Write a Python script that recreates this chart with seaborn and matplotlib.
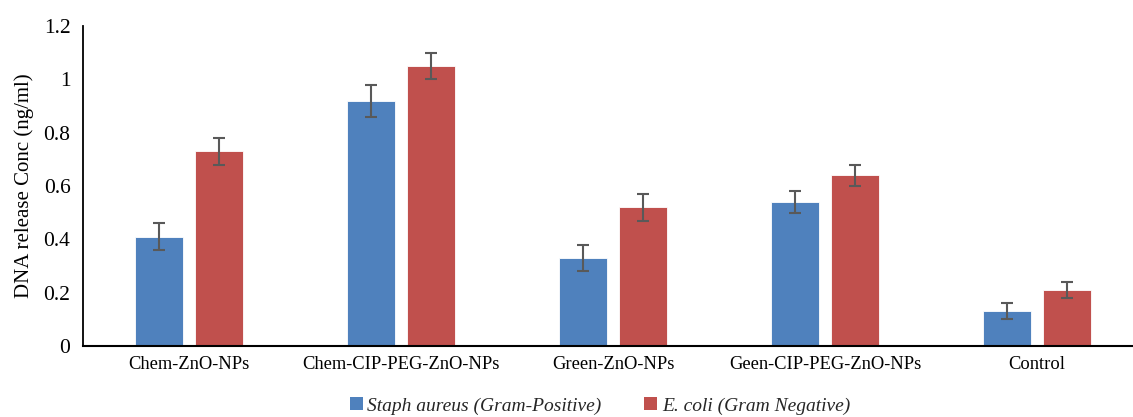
import matplotlib
matplotlib.use("Agg")
import matplotlib.pyplot as plt
import seaborn as sns
import pandas as pd
from matplotlib.ticker import FuncFormatter
from matplotlib.patches import Patch

categories = ["Chem-ZnO-NPs", "Chem-CIP-PEG-ZnO-NPs", "Green-ZnO-NPs",
              "Geen-CIP-PEG-ZnO-NPs", "Control"]
series = ["Staph aureus (Gram-Positive)", "E. coli (Gram Negative)"]
staph_values = [0.41, 0.92, 0.33, 0.54, 0.13]
staph_errors = [0.05, 0.06, 0.05, 0.04, 0.03]
ecoli_values = [0.73, 1.05, 0.52, 0.64, 0.21]
ecoli_errors = [0.05, 0.05, 0.05, 0.04, 0.03]
colors = ["#4F81BD", "#C0504D"]

df = pd.DataFrame({
    "category": categories * 2,
    "series": [series[0]] * 5 + [series[1]] * 5,
    "value": staph_values + ecoli_values,
    "err": staph_errors + ecoli_errors,
})

sns.set_theme(style="white")
plt.rcParams["font.family"] = ["Liberation Serif", "DejaVu Serif"]

fig = plt.figure(figsize=(11.33, 4.17), dpi=100)
ax = fig.add_axes([83 / 1133, 1 - 346 / 417, 1050 / 1133, 320 / 417])

sns.barplot(data=df, x="category", y="value", hue="series", order=categories,
            hue_order=series, palette=colors, width=0.565, dodge=True,
            errorbar=None, legend=False, ax=ax, saturation=1)

bar_w = 0.226
patches = [p for p in ax.patches if p.get_height() > 0]
for p in patches:
    cx = p.get_x() + p.get_width() / 2
    p.set_width(bar_w)
    p.set_x(cx - bar_w / 2)
    p.set_edgecolor("white")
    p.set_linewidth(0.6)

errs = staph_errors + ecoli_errors
vals = staph_values + ecoli_values
for p, v, e in zip(patches, vals, errs):
    cx = p.get_x() + p.get_width() / 2
    ax.errorbar(cx, v, yerr=e, fmt="none", ecolor="#595959", elinewidth=1.5,
                capsize=4.2, capthick=1.5, zorder=5)

ax.set_xlim(-0.5, 4.453)
ax.set_ylim(0, 1.2)
ax.set_yticks([0, 0.2, 0.4, 0.6, 0.8, 1.0, 1.2])
ax.yaxis.set_major_formatter(FuncFormatter(lambda v, _: f"{v:g}"))
ax.tick_params(axis="y", length=0, pad=9, labelsize=15.5, colors="black")
ax.tick_params(axis="x", length=0, pad=7, labelsize=13.3, colors="black")
ax.set_xlabel("")
ax.set_ylabel("DNA release Conc (ng/ml)", fontsize=15, color="black", labelpad=7)

for s in ["top", "right"]:
    ax.spines[s].set_visible(False)
ax.spines["left"].set_color("black")
ax.spines["left"].set_linewidth(1.3)
ax.spines["bottom"].set_color("black")
ax.spines["bottom"].set_linewidth(1.5)

handles = [Patch(facecolor=c, edgecolor="none") for c in colors]
fig.legend(handles, series, loc="center", bbox_to_anchor=(600 / 1133, 1 - 406 / 417),
           ncol=2, frameon=False, prop={"style": "italic", "size": 14},
           handlelength=0.65, handleheight=0.65, handletextpad=0.25,
           columnspacing=2.2)

fig.savefig("out.png", dpi=100)
